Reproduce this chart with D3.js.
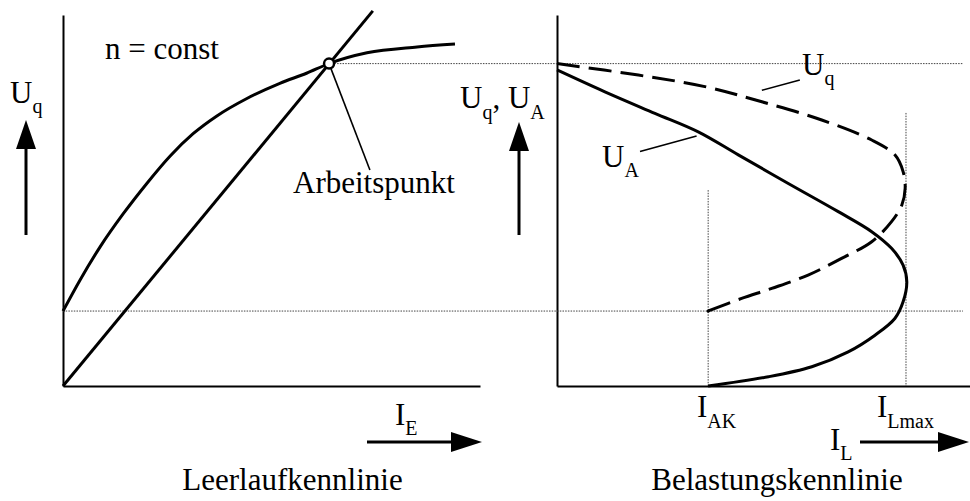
<!DOCTYPE html>
<html>
<head>
<meta charset="utf-8">
<script src="https://cdn.jsdelivr.net/npm/d3@7"></script>
</head>
<body style="margin:0">
<svg id="chart" width="970" height="501" style="display:block"></svg>
<script>
// Leerlaufkennlinie: no-load characteristic Uq(IE), n = const (normalised units)
const noLoadIE = [0, 4.1, 8.9, 14.5, 20.1, 25.7, 31.2, 36.9, 44.1, 52.0, 58.4, 63.8, 72.9, 84.9, 94.0];
const noLoadUq = [20.2, 28.6, 37.5, 46.5, 54.6, 62.0, 68.0, 72.8, 77.5, 81.6, 84.3, 86.9, 89.8, 91.4, 92.2];

// Field resistance line through the origin and the operating point
const fieldLineIE = [0, 74.3];
const fieldLineU  = [0, 101.1];

// Operating point (Arbeitspunkt)
const workIE = 63.8;
const workU  = 86.9;

// Belastungskennlinie: source voltage Uq and terminal voltage UA over load current IL
const loadUqIL = [0, 19.7, 35.8, 49.6, 64.1, 76.2, 81.8, 83.8, 84.3, 83.5, 81.0, 76.2, 68.9, 60.8, 52.0, 44.7, 36.6];
const loadUq   = [86.9, 83.8, 80.7, 76.6, 71.7, 66.3, 62.3, 57.8, 53.3, 48.8, 44.3, 38.9, 34.4, 29.9, 26.3, 23.6, 20.2];
const loadUAIL = [0, 11.6, 23.7, 34.2, 43.9, 56.0, 68.1, 76.2, 81.0, 83.8, 84.7, 83.8, 81.8, 77.0, 70.5, 61.7, 51.2, 36.6];
const loadUA   = [85.2, 79.3, 73.5, 68.5, 62.3, 54.6, 47.0, 41.6, 37.1, 32.6, 28.1, 22.7, 18.2, 13.7, 9.2, 5.2, 2.5, 0];

// Marked currents on the load axis
const currentNames  = ["AK", "Lmax"];
const currentValues = [36.6, 84.5];
const currentTops   = [52.8, 73.6];

// Remanent voltage level
const remanentU = 20.2;

const FONT = "Liberation Serif";

const svg = d3.select("#chart");

const y  = d3.scaleLinear().domain([0, 100]).range([386, 15]);
const xL = d3.scaleLinear().domain([0, 100]).range([63, 480]);
const xR = d3.scaleLinear().domain([0, 100]).range([557, 970]);

const dotted = { stroke: "#444", width: 1, dash: "1.5,1.2" };

// Axes (no ticks, just the axis lines)
function drawAxes(x) {
  svg.append("g").attr("transform", `translate(0,${y(0)})`)
    .call(d3.axisBottom(x).tickValues([]).tickSizeOuter(0))
    .call(g => g.select(".domain").attr("stroke", "#000").attr("stroke-width", 2));
  svg.append("g").attr("transform", `translate(${x(0)},0)`)
    .call(d3.axisLeft(y).tickValues([]).tickSizeOuter(0))
    .call(g => g.select(".domain").attr("stroke", "#000").attr("stroke-width", 2));
}
drawAxes(xL);
drawAxes(xR);

// Horizontal reference lines spanning both panels
function hLine(x1, x2, u) {
  svg.append("line")
    .attr("x1", x1).attr("x2", x2).attr("y1", y(u)).attr("y2", y(u))
    .attr("stroke", dotted.stroke).attr("stroke-width", dotted.width)
    .attr("stroke-dasharray", dotted.dash);
}
hLine(xL(workIE), xR(98.3), workU);
hLine(xL(0), xR(98.3), remanentU);

// Vertical reference lines at the marked currents
currentValues.forEach((v, i) => {
  svg.append("line")
    .attr("x1", xR(v)).attr("x2", xR(v)).attr("y1", y(currentTops[i])).attr("y2", y(0))
    .attr("stroke", dotted.stroke).attr("stroke-width", dotted.width)
    .attr("stroke-dasharray", dotted.dash);
});

const smooth = d3.curveCatmullRom.alpha(0.5);

// No-load curve (monotone in IE)
svg.append("path")
  .datum(noLoadIE.map((v, i) => [v, noLoadUq[i]]))
  .attr("d", d3.line().x(d => xL(d[0])).y(d => y(d[1])).curve(d3.curveMonotoneX))
  .attr("fill", "none").attr("stroke", "#000").attr("stroke-width", 3);

// Field resistance line
svg.append("path")
  .datum(fieldLineIE.map((v, i) => [v, fieldLineU[i]]))
  .attr("d", d3.line().x(d => xL(d[0])).y(d => y(d[1])))
  .attr("fill", "none").attr("stroke", "#000").attr("stroke-width", 3);

// Leader from the operating point to its label
svg.append("line")
  .attr("x1", xL(workIE)).attr("y1", y(workU))
  .attr("x2", xL(73.6)).attr("y2", y(58.2))
  .attr("stroke", "#000").attr("stroke-width", 1.6);

// Operating point marker
svg.append("circle")
  .attr("cx", xL(workIE)).attr("cy", y(workU)).attr("r", 5)
  .attr("fill", "#fff").attr("stroke", "#000").attr("stroke-width", 2.5);

// Load curves
svg.append("path")
  .datum(loadUqIL.map((v, i) => [v, loadUq[i]]))
  .attr("d", d3.line().x(d => xR(d[0])).y(d => y(d[1])).curve(smooth))
  .attr("fill", "none").attr("stroke", "#000").attr("stroke-width", 3)
  .attr("stroke-dasharray", "23,9");

svg.append("path")
  .datum(loadUAIL.map((v, i) => [v, loadUA[i]]))
  .attr("d", d3.line().x(d => xR(d[0])).y(d => y(d[1])).curve(smooth))
  .attr("fill", "none").attr("stroke", "#000").attr("stroke-width", 3);

// small dot where the Uq curve meets the remanent level
svg.append("circle")
  .attr("cx", xR(currentValues[0])).attr("cy", y(remanentU)).attr("r", 1.6)
  .attr("fill", "#000");

// Curve leaders
[[49.6, 79.7, 58.8, 82.5], [20.1, 63.2, 33.8, 67.4]].forEach(l => {
  svg.append("line")
    .attr("x1", xR(l[0])).attr("y1", y(l[1]))
    .attr("x2", xR(l[2])).attr("y2", y(l[3]))
    .attr("stroke", "#000").attr("stroke-width", 1.6);
});

// Text: each run is its own <text>, subscripts are placed after the measured run
const MAIN = 31, SUB = 20;
function label(x, yb, parts, anchor) {
  let cx = x;
  parts.forEach(p => {
    const t = svg.append("text")
      .attr("x", cx).attr("y", p.sub ? yb + (p.dy || 10) : yb)
      .attr("font-family", FONT).attr("fill", "#000")
      .attr("font-size", p.sub ? SUB : MAIN)
      .attr("text-anchor", anchor || "start")
      .attr("xml:space", "preserve")
      .text(p.t);
    cx += t.node().getComputedTextLength();
  });
}

label(105, 59, [{ t: "n = const" }]);
label(293, 193, [{ t: "Arbeitspunkt" }]);
label(10, 103, [{ t: "U" }, { t: "q", sub: true, dy: 10 }]);
label(395, 425, [{ t: "I" }, { t: "E", sub: true, dy: 10 }]);
label(292.5, 490, [{ t: "Leerlaufkennlinie" }], "middle");
label(777, 490, [{ t: "Belastungskennlinie" }], "middle");

label(460, 108, [{ t: "U" }, { t: "q", sub: true, dy: 11 }, { t: ", U" }, { t: "A", sub: true, dy: 11 }]);
label(802, 75, [{ t: "U" }, { t: "q", sub: true, dy: 10 }]);
label(602, 167, [{ t: "U" }, { t: "A", sub: true, dy: 10 }]);
label(697, 417, [{ t: "I" }, { t: currentNames[0], sub: true, dy: 11 }]);
label(877, 417, [{ t: "I" }, { t: currentNames[1], sub: true, dy: 11 }]);
label(830, 450, [{ t: "I" }, { t: "L", sub: true, dy: 10 }]);

// Direction arrows
function arrowUp(x, tail, tip) {
  svg.append("line").attr("x1", x).attr("x2", x).attr("y1", tail).attr("y2", tip + 20)
    .attr("stroke", "#000").attr("stroke-width", 3);
  svg.append("path")
    .attr("d", `M${x},${tip}L${x - 10},${tip + 29}L${x + 10},${tip + 29}Z`).attr("fill", "#000");
}
function arrowRight(yy, tail, tip) {
  svg.append("line").attr("x1", tail).attr("x2", tip - 20).attr("y1", yy).attr("y2", yy)
    .attr("stroke", "#000").attr("stroke-width", 3);
  svg.append("path")
    .attr("d", `M${tip},${yy}L${tip - 31},${yy - 10}L${tip - 31},${yy + 10}Z`).attr("fill", "#000");
}
arrowUp(26, 235, 120);
arrowUp(519, 235, 122);
arrowRight(442, 367, 482);
arrowRight(442, 860, 969);
</script>
</body>
</html>
